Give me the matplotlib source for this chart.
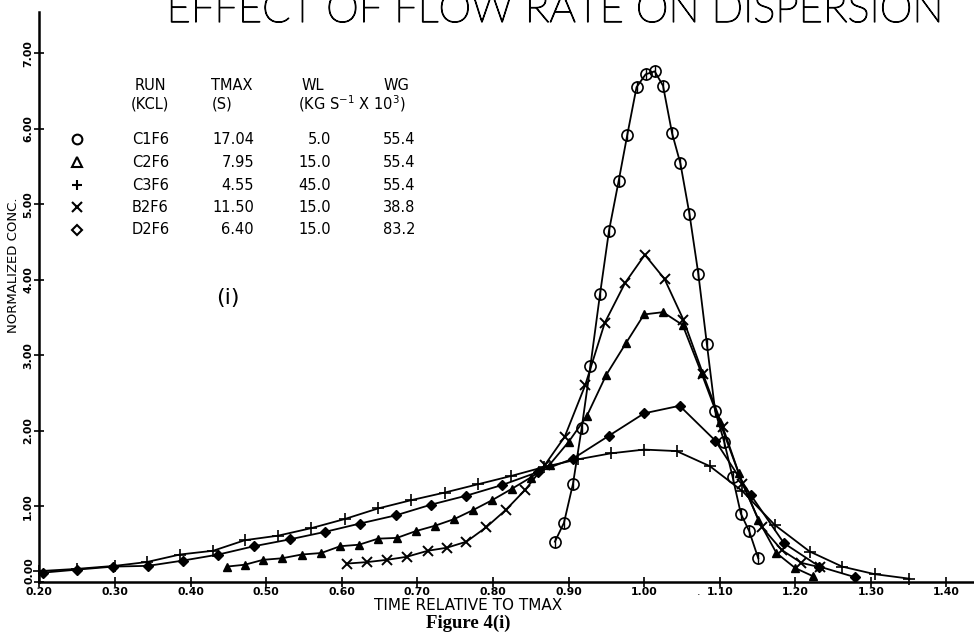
import matplotlib
matplotlib.use("Agg")
import matplotlib.pyplot as plt
import matplotlib.patheffects as pe
from matplotlib.ticker import FixedLocator, FuncFormatter

# ---------------- data ----------------
c1f6_t = [0.882, 0.894, 0.906, 0.9175, 0.929, 0.9417, 0.9536, 0.9664, 0.9778, 0.990,
          1.002, 1.014, 1.025, 1.037, 1.048, 1.060, 1.0717, 1.083, 1.094, 1.106,
          1.117, 1.128, 1.139, 1.151]
c1f6_v = [0.53, 0.78, 1.30, 2.04, 2.86, 3.81, 4.65, 5.31, 5.92, 6.55,
          6.72, 6.76, 6.57, 5.94, 5.54, 4.87, 4.08, 3.15, 2.26, 1.85,
          1.39, 0.90, 0.67, 0.31]

c2f6_t = [0.448, 0.472, 0.496, 0.521, 0.547, 0.573, 0.598, 0.623, 0.648, 0.673,
          0.698, 0.723, 0.749, 0.774, 0.799, 0.825, 0.850, 0.875, 0.900, 0.924,
          0.950, 0.976, 1.000, 1.025, 1.051, 1.076, 1.100, 1.125, 1.151, 1.175,
          1.200, 1.224]
c2f6_v = [0.20, 0.225, 0.29, 0.31, 0.36, 0.38, 0.47, 0.49, 0.57, 0.58,
          0.67, 0.74, 0.83, 0.95, 1.08, 1.23, 1.38, 1.55, 1.85, 2.19,
          2.74, 3.16, 3.54, 3.57, 3.40, 2.76, 2.12, 1.44, 0.82, 0.38,
          0.18, 0.07]

c3f6_t = [0.200, 0.250, 0.300, 0.342, 0.386, 0.430, 0.472, 0.516, 0.560, 0.604,
          0.648, 0.692, 0.736, 0.780, 0.824, 0.868, 0.912, 0.956, 1.000, 1.043,
          1.087, 1.130, 1.173, 1.219, 1.262, 1.305, 1.351]
c3f6_v = [0.14, 0.17, 0.21, 0.26, 0.36, 0.41, 0.55, 0.61, 0.71, 0.83,
          0.97, 1.08, 1.18, 1.29, 1.40, 1.52, 1.62, 1.70, 1.75, 1.73,
          1.53, 1.20, 0.75, 0.40, 0.20, 0.10, 0.04]

b2f6_t = [0.607, 0.634, 0.660, 0.686, 0.714, 0.739, 0.765, 0.791, 0.817, 0.843,
          0.869, 0.895, 0.922, 0.948, 0.975, 1.001, 1.027, 1.052, 1.078, 1.104,
          1.130, 1.156, 1.182, 1.208, 1.233]
b2f6_v = [0.24, 0.26, 0.29, 0.33, 0.41, 0.45, 0.53, 0.72, 0.95, 1.22,
          1.55, 1.92, 2.60, 3.43, 3.96, 4.33, 4.01, 3.47, 2.75, 2.05,
          1.30, 0.72, 0.42, 0.25, 0.19]

d2f6_t = [0.205, 0.250, 0.298, 0.344, 0.390, 0.437, 0.484, 0.531, 0.578, 0.624,
          0.672, 0.718, 0.765, 0.812, 0.859, 0.906, 0.953, 1.000, 1.047, 1.094,
          1.141, 1.185, 1.232, 1.279]
d2f6_v = [0.12, 0.16, 0.20, 0.21, 0.28, 0.36, 0.47, 0.56, 0.66, 0.77,
          0.88, 1.02, 1.14, 1.28, 1.45, 1.63, 1.93, 2.23, 2.33, 1.87,
          1.15, 0.51, 0.20, 0.06]

runs = ["C1F6", "C2F6", "C3F6", "B2F6", "D2F6"]
tmax = ["17.04", "7.95", "4.55", "11.50", "6.40"]
wl = ["5.0", "15.0", "45.0", "15.0", "15.0"]
wg = ["55.4", "55.4", "55.4", "38.8", "83.2"]

x_ticks = [0.20, 0.30, 0.40, 0.50, 0.60, 0.70, 0.80, 0.90, 1.00, 1.10, 1.20, 1.30, 1.40]
y_ticks = [0.0, 1.0, 2.0, 3.0, 4.0, 5.0, 6.0, 7.0]

# ---------------- figure ----------------
W, H = 974, 636
fig = plt.figure(figsize=(W / 100, H / 100), dpi=100)
fig.patch.set_facecolor("white")

X0, XR, Y0, YT = 39.3, 974.0, 581.7, 12.0
PX_T, PX_V = 756.0, 75.5
ax = fig.add_axes([X0 / W, (H - Y0) / H, (XR - X0) / W, (Y0 - YT) / H])
ax.set_xlim(0.2, 0.2 + (XR - X0) / PX_T)
ax.set_ylim(0.0, (Y0 - YT) / PX_V)
ax.set_facecolor("white")

for s in ("top", "right"):
    ax.spines[s].set_visible(False)
for s in ("left", "bottom"):
    ax.spines[s].set_linewidth(1.8)
    ax.spines[s].set_color("black")

ax.xaxis.set_major_locator(FixedLocator(x_ticks))
ax.yaxis.set_major_locator(FixedLocator(y_ticks))
ax.xaxis.set_major_formatter(FuncFormatter(lambda v, p: f"{v:.2f}"))
# the 0.00 label sits slightly raised in the reference; it is drawn separately below
ax.yaxis.set_major_formatter(FuncFormatter(lambda v, p: "" if abs(v) < 1e-9 else f"{v:.2f}"))
ax.tick_params(axis="both", direction="inout", length=7, width=1.2, colors="black")
ax.tick_params(axis="x", pad=0.5, labelsize=7.8)
ax.tick_params(axis="y", pad=1, labelsize=7.8)
for lab in ax.get_xticklabels():
    lab.set_fontweight("bold")
for lab in ax.get_yticklabels():
    lab.set_fontweight("bold")
    lab.set_rotation(90)
    lab.set_va("center")

lw = 1.3
ax.plot(c1f6_t, c1f6_v, color="black", lw=lw, marker="o", ms=8, mfc="none", mec="black", mew=1.2, clip_on=False)
ax.plot(c1f6_t, c1f6_v, ls="none", marker="|", ms=8, mec="black", mew=1.0, clip_on=False)
ax.plot(c2f6_t, c2f6_v, color="black", lw=lw, marker="^", ms=6, mfc="black", mec="black", clip_on=False)
ax.plot(c3f6_t, c3f6_v, color="black", lw=lw, marker="+", ms=8, mew=1.2, clip_on=False)
ax.plot(b2f6_t, b2f6_v, color="black", lw=lw, marker="x", ms=7, mew=1.4, clip_on=False)
ax.plot(d2f6_t, d2f6_v, color="black", lw=lw, marker="D", ms=5, mfc="black", mec="black", clip_on=False)

# ---------------- texts ----------------
def ftxt(x, y, s, **kw):
    kw.setdefault("color", "black")
    return fig.text(x / W, 1 - y / H, s, **kw)

ftxt(555, 22, "EFFECT OF FLOW RATE ON DISPERSION", fontsize=30, family=["Lato", "DejaVu Sans"],
     fontweight="light", ha="center", va="baseline",
     path_effects=[pe.withStroke(linewidth=0.9, foreground="black")])

ftxt(29.5, 571, "0.00", fontsize=7.8, fontweight="bold", rotation=90, ha="center", va="center")

ftxt(14, 265, "NORMALIZED CONC.", fontsize=9.5, rotation=90, ha="center", va="center",
     family="DejaVu Sans")
ftxt(468, 605, "TIME RELATIVE TO TMAX", fontsize=11, ha="center", va="center",
     family="DejaVu Sans")
ftxt(468, 623, "Figure 4(i)", fontsize=13.5, ha="center", va="center",
     family="Liberation Serif", fontweight="bold")
ftxt(699, 592, ".", fontsize=8, ha="center", va="center")

ftxt(228, 298, "(i)", fontsize=16, ha="center", va="center", family="DejaVu Sans")

# table
hdr_y1, hdr_y2 = 85, 104
tf = dict(fontsize=10.5, va="center", family="DejaVu Sans")
ftxt(150, hdr_y1, "RUN", ha="center", **tf)
ftxt(150, hdr_y2, "(KCL)", ha="center", **tf)
ftxt(232, hdr_y1, "TMAX", ha="center", **tf)
ftxt(222, hdr_y2, "(S)", ha="center", **tf)
ftxt(313, hdr_y1, "WL", ha="center", **tf)
ftxt(396, hdr_y1, "WG", ha="center", **tf)
ftxt(298, hdr_y2, r"(KG S$^{-1}$ X 10$^{3}$)", ha="left", **tf)

row_y = [139, 162, 185, 207, 230]
sym = [dict(marker="o", mfc="none"), dict(marker="^", mfc="none"), dict(marker="+", mfc="none"),
       dict(marker="x", mfc="none"), dict(marker="D", mfc="none")]
for i, y in enumerate(row_y):
    ftxt(132, y, runs[i], ha="left", **tf)
    ftxt(254, y, tmax[i], ha="right", **tf)
    ftxt(331, y, wl[i], ha="right", **tf)
    ftxt(415, y, wg[i], ha="right", **tf)
    fig.lines.append(plt.Line2D([77 / W], [1 - y / H], transform=fig.transFigure,
                                color="black", ms=7 if i != 4 else 5.5, mew=1.5, ls="none", **sym[i]))

fig.savefig("out.png", dpi=100, facecolor="white")
